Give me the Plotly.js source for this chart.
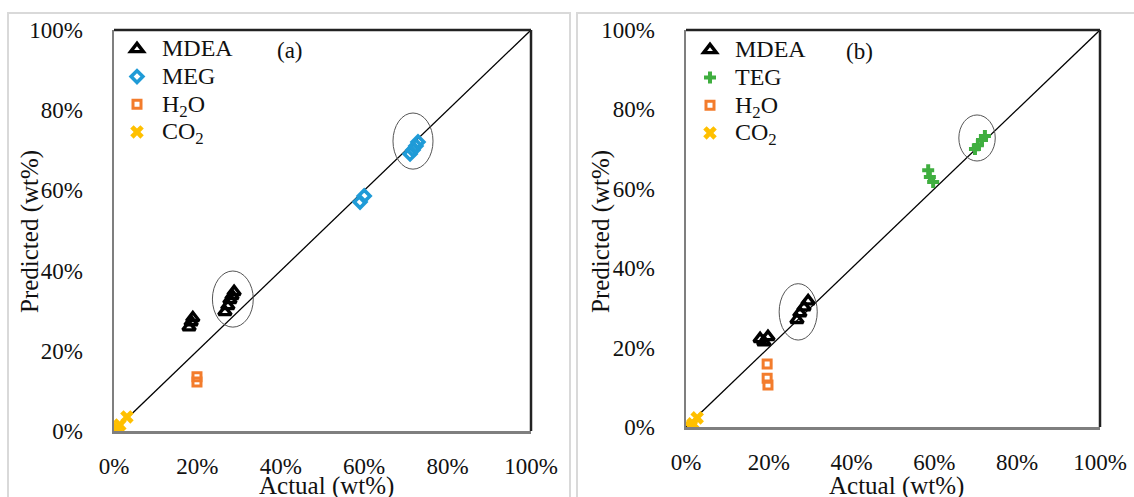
<!DOCTYPE html>
<html>
<head>
<meta charset="utf-8">
<script src="https://cdn.plot.ly/plotly-3.0.1.min.js"></script>
<style>html,body{margin:0;padding:0;background:#fff;}#chart{width:1134px;height:497px;}</style>
</head>
<body>
<div id="chart"></div>
<script>
// ---- Panel (a) data: actual vs predicted (fractions) ----
const a_MDEA_x = [0.180, 0.185, 0.189, 0.266, 0.273, 0.278, 0.283, 0.288];
const a_MDEA_y = [0.259, 0.272, 0.282, 0.297, 0.312, 0.327, 0.337, 0.347];
const a_MEG_x  = [0.590, 0.600, 0.710, 0.717, 0.724, 0.729];
const a_MEG_y  = [0.571, 0.586, 0.691, 0.701, 0.711, 0.721];
const a_H2O_x  = [0.199, 0.199];
const a_H2O_y  = [0.135, 0.122];
const a_CO2_x  = [0.007, 0.014, 0.031];
const a_CO2_y  = [0.007, 0.015, 0.035];

// ---- Panel (b) data ----
const b_MDEA_x = [0.179, 0.188, 0.198, 0.268, 0.275, 0.285, 0.295];
const b_MDEA_y = [0.222, 0.214, 0.227, 0.270, 0.287, 0.302, 0.317];
const b_TEG_x  = [0.585, 0.589, 0.597, 0.698, 0.705, 0.715, 0.722];
const b_TEG_y  = [0.647, 0.630, 0.617, 0.700, 0.710, 0.723, 0.733];
const b_H2O_x  = [0.196, 0.196, 0.198];
const b_H2O_y  = [0.159, 0.123, 0.106];
const b_CO2_x  = [0.012, 0.017, 0.027];
const b_CO2_y  = [0.000, 0.008, 0.023];

// y = x reference line
const diag = [0, 1];

// highlighted clusters: [cx, cy, rx, ry]
const a_circles = [[0.285, 0.329, 0.049, 0.070], [0.717, 0.723, 0.048, 0.070]];
const b_circles = [[0.271, 0.290, 0.046, 0.071], [0.703, 0.728, 0.044, 0.058]];

const tickVals = [0, 0.2, 0.4, 0.6, 0.8, 1.0];
const tickText = ['0%', '20%', '40%', '60%', '80%', '100%'];

const FONT = 'Liberation Serif, Times New Roman, serif';
const C = {MDEA: '#000000', MEG: '#1f9bd7', H2O: '#f37c2c', CO2: '#ffc000', TEG: '#3fae3f'};

function lbl(t) { return '<span style="font-size:24px">' + t + '</span>'; }

function mk(name, x, y, xa, ya, leg, sym, color, size, lw) {
  const filled = (sym === 'x' || sym === 'cross');
  return {
    type: 'scatter', mode: 'markers', name: lbl(name), x: x, y: y,
    xaxis: xa, yaxis: ya, legend: leg,
    marker: filled ? {symbol: sym, size: size, color: color, line: {width: 0}}
                   : {symbol: sym, size: size, color: color, line: {width: lw, color: color}}
  };
}
function diagTrace(xa, ya) {
  return {type: 'scatter', mode: 'lines', x: diag, y: diag, xaxis: xa, yaxis: ya,
          line: {color: '#000', width: 1.3}, showlegend: false, hoverinfo: 'skip'};
}

const data = [
  diagTrace('x', 'y'),
  mk('MDEA', a_MDEA_x, a_MDEA_y, 'x', 'y', 'legend', 'triangle-up-open', C.MDEA, 11, 3.4),
  mk('MEG', a_MEG_x, a_MEG_y, 'x', 'y', 'legend', 'diamond-open', C.MEG, 9, 3.6),
  mk('H<sub>2</sub>O', a_H2O_x, a_H2O_y, 'x', 'y', 'legend', 'square-open', C.H2O, 8, 3),
  mk('CO<sub>2</sub>', a_CO2_x, a_CO2_y, 'x', 'y', 'legend', 'x', C.CO2, 12, 0),
  diagTrace('x2', 'y2'),
  mk('MDEA', b_MDEA_x, b_MDEA_y, 'x2', 'y2', 'legend2', 'triangle-up-open', C.MDEA, 11, 3.4),
  mk('TEG', b_TEG_x, b_TEG_y, 'x2', 'y2', 'legend2', 'cross', C.TEG, 10, 0),
  mk('H<sub>2</sub>O', b_H2O_x, b_H2O_y, 'x2', 'y2', 'legend2', 'square-open', C.H2O, 8, 3),
  mk('CO<sub>2</sub>', b_CO2_x, b_CO2_y, 'x2', 'y2', 'legend2', 'x', C.CO2, 12, 0)
];

const W = 1134, H = 497;
const px = v => v / W, py = v => (H - v) / H;

function xaxis(domain, anchor) {
  return {domain: domain, anchor: anchor, range: [0, 1], tickvals: tickVals, ticktext: tickText,
          showgrid: false, zeroline: false, showline: true, linecolor: '#7f7f7f', linewidth: 2.5,
          ticks: '', ticklabelstandoff: 13, tickfont: {family: FONT, size: 23, color: '#111'},
          fixedrange: true, automargin: false};
}
function yaxis(domain, anchor) {
  return {domain: domain, anchor: anchor, range: [0, 1], tickvals: tickVals, ticktext: tickText,
          showgrid: false, zeroline: false, showline: true, linecolor: '#7f7f7f', linewidth: 2.5,
          ticks: '', ticklabelstandoff: 24, tickfont: {family: FONT, size: 23, color: '#111'},
          fixedrange: true, automargin: false};
}

const shapes = [
  {type: 'rect', xref: 'paper', yref: 'paper', x0: px(8), x1: px(570), y0: -0.1, y1: py(13),
   line: {color: '#d9d9d9', width: 2}, layer: 'below'},
  {type: 'rect', xref: 'paper', yref: 'paper', x0: px(577), x1: 1.05, y0: -0.1, y1: py(13),
   line: {color: '#d9d9d9', width: 2}, layer: 'below'},
  {type: 'line', xref: 'x domain', yref: 'y domain', x0: 0, x1: 1, y0: 1, y1: 1, line: {color: '#222', width: 2.5}},
  {type: 'line', xref: 'x domain', yref: 'y domain', x0: 1, x1: 1, y0: 0, y1: 1, line: {color: '#222', width: 2.5}},
  {type: 'line', xref: 'x2 domain', yref: 'y2 domain', x0: 0, x1: 1, y0: 1, y1: 1, line: {color: '#222', width: 2.5}},
  {type: 'line', xref: 'x2 domain', yref: 'y2 domain', x0: 1, x1: 1, y0: 0, y1: 1, line: {color: '#222', width: 2.5}}
];
a_circles.forEach(c => shapes.push({type: 'circle', xref: 'x', yref: 'y', x0: c[0]-c[2], x1: c[0]+c[2],
  y0: c[1]-c[3], y1: c[1]+c[3], line: {color: '#555', width: 1}}));
b_circles.forEach(c => shapes.push({type: 'circle', xref: 'x2', yref: 'y2', x0: c[0]-c[2], x1: c[0]+c[2],
  y0: c[1]-c[3], y1: c[1]+c[3], line: {color: '#555', width: 1}}));

const tf = {family: FONT, size: 25, color: '#111'};
function ann(text, x, y, font, angle) {
  return {text: text, xref: 'paper', yref: 'paper', x: px(x), y: py(y), xanchor: 'center', yanchor: 'middle',
          textangle: angle || 0, showarrow: false, font: font};
}
const annotations = [
  ann('Predicted (wt%)', 30, 232, tf, -90),
  ann('Actual (wt%)', 326, 486, tf),
  ann('Predicted (wt%)', 601, 232, tf, -90),
  ann('Actual (wt%)', 896, 486, tf),
  ann('(a)', 290, 50, {family: FONT, size: 23, color: '#111'}),
  ann('(b)', 859, 51, {family: FONT, size: 23, color: '#111'})
];

const legFont = {family: FONT, size: 19, color: '#111'};
const layout = {
  width: W, height: H, margin: {l: 0, r: 0, t: 0, b: 0},
  paper_bgcolor: '#fff', plot_bgcolor: '#fff',
  xaxis: xaxis([px(114), px(531)], 'y'),
  yaxis: yaxis([(H-431)/H, (H-30)/H], 'x'),
  xaxis2: xaxis([px(686), px(1100)], 'y2'),
  yaxis2: yaxis([(H-427)/H, (H-30)/H], 'x2'),
  legend: {x: px(112), y: py(30), xanchor: 'left', yanchor: 'top', bgcolor: 'rgba(0,0,0,0)',
           itemwidth: 40, font: legFont, tracegroupgap: 0, itemclick: false, itemdoubleclick: false},
  legend2: {x: px(685), y: py(31), xanchor: 'left', yanchor: 'top', bgcolor: 'rgba(0,0,0,0)',
           itemwidth: 40, font: legFont, tracegroupgap: 0, itemclick: false, itemdoubleclick: false},
  shapes: shapes,
  annotations: annotations,
  showlegend: true
};

Plotly.newPlot('chart', data, layout, {staticPlot: true, displayModeBar: false});
</script>
</body>
</html>
